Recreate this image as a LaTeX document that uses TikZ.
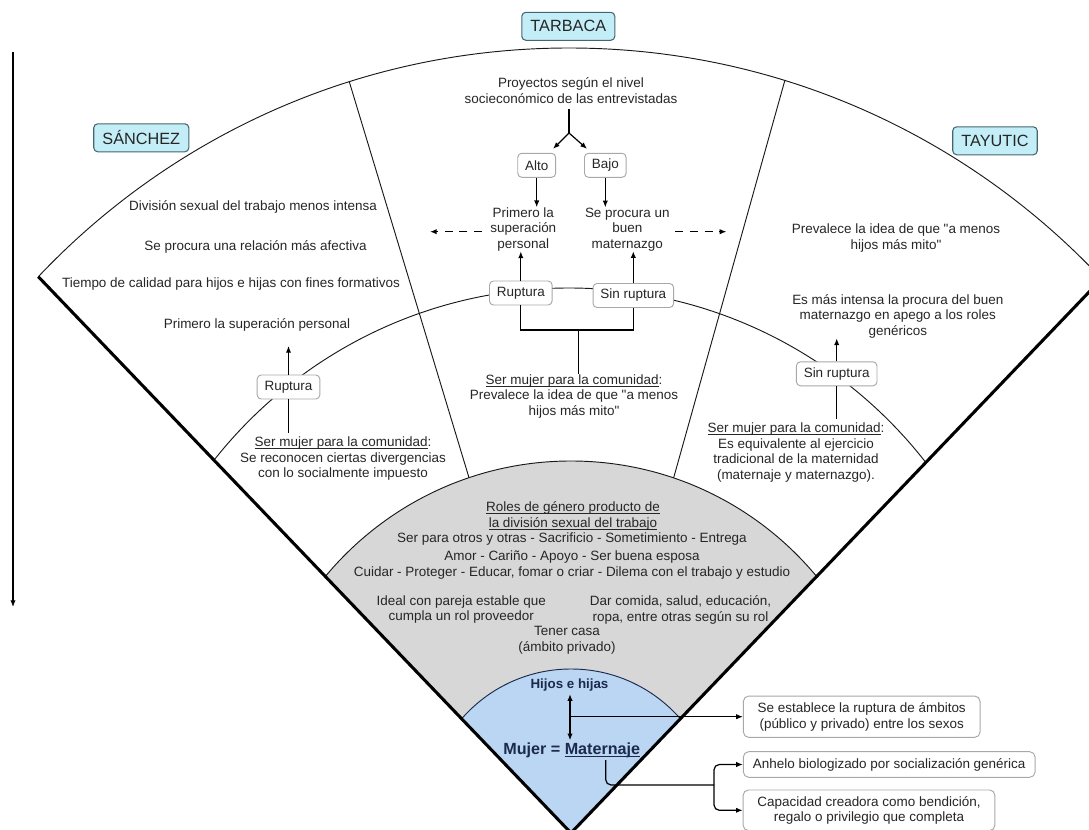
\documentclass[tikz,border=0pt]{standalone}
\usepackage{fontspec}
\setmainfont{Liberation Sans}[Ligatures=TeXOff]
\usetikzlibrary{arrows.meta,calc}
\definecolor{txtc}{HTML}{262626}
\definecolor{lblfill}{HTML}{C4EEF7}
\definecolor{lbldraw}{HTML}{46666E}
\definecolor{grayfill}{HTML}{D7D7D7}
\definecolor{bluefill}{HTML}{BAD6F2}
\definecolor{navy}{HTML}{1B2A4E}
\definecolor{boxdraw}{HTML}{A8A8A8}
\newcommand\fsz{\fontsize{10.1}{11.7}\selectfont}
\newcommand\ulin[2][0.55pt]{\setbox0\hbox{#2}\rlap{\rule[-1.6pt]{\wd0}{#1}}\box0}
\begin{document}
\begin{tikzpicture}[x=0.75pt,y=-0.75pt,
  >={Latex[length=5pt,width=4pt]},
  txt/.style={font=\fsz, text=txtc, align=center, inner sep=0pt},
  lbl/.style={draw=lbldraw, fill=lblfill, rounded corners=3pt, line width=0.8pt,
    font=\fontsize{12.2}{14}\selectfont, text=txtc, inner xsep=6.5pt, minimum height=21pt},
  sbox/.style={draw=boxdraw, fill=white, rounded corners=3pt, line width=0.7pt,
    font=\fsz, text=txtc, inner xsep=5.5pt, minimum height=18pt},
  rbox/.style={draw=boxdraw, fill=white, rounded corners=4pt, line width=0.7pt,
    font=\fsz, text=txtc, align=center},
  conn/.style={line width=0.9pt, draw=black},
  thinline/.style={line width=0.7pt, draw=black!90},
  rim/.style={line width=2.3pt, draw=black},
  dashline/.style={conn, dash pattern=on 6pt off 5pt}]
\useasboundingbox (0,0) rectangle (1089,830);
\clip (0,0) rectangle (1089,830);
% geometry
\coordinate (ap) at (571,833);
\coordinate (lt) at (38.3,276.7);
\coordinate (rt) at (1101.7,278.8);
\begin{scope}
  \clip (ap) -- ($(ap)!3!(lt)$) -- ($(ap)!3!(rt)$) -- cycle;
  \fill[grayfill] (571,780) circle[radius=319];
  \draw[thinline] (571,780) circle[radius=319];
  \fill[bluefill] (571,814) circle[radius=145];
  \draw[thinline,draw=navy] (571,814) circle[radius=145];
  \draw[thinline] (569,778) circle[radius=730];
  \draw[thinline] (569,740) circle[radius=452];
\end{scope}
% dividers
\coordinate (d1a) at (349.3,81.8);
\coordinate (d1b) at (469,477.7);
\coordinate (d2a) at (784.8,80.6);
\coordinate (d2b) at (673.6,478);
\draw[thinline] (d1a) -- (d1b);
\draw[thinline] (d2a) -- (d2b);
% rims
\draw[rim] (lt) -- (ap) -- (rt);
% left margin arrow
\coordinate (va) at (13,52);
\coordinate (vb) at (13,607);
\draw[conn,->] (va) -- (vb);
% labels
\node[lbl] (tarbaca) at (568.3,26.3) {TARBACA};
\node[lbl] (sanchez) at (141.3,137.8) {SÁNCHEZ};
\node[lbl] (tayutic) at (995,140.8) {TAYUTIC};
% middle sector
\node[txt] (proj) at (571,90.5) {Proyectos según el nivel\\socieconómico de las entrevistadas};
\coordinate (fk) at (569,133);
\node[sbox] (alto) at (536.7,165.3) {Alto};
\node[sbox] (bajo) at (605.3,165.3) {Bajo};
\draw[conn,shorten <=4pt] (fk |- proj.south) -- (fk);
\draw[conn,->] (fk) -- ($(alto.north east)+(-3,-4)$);
\draw[conn,->] (fk) -- ($(bajo.north west)+(3,-4)$);
\node[txt] (prim) at (523.3,229.3) {Primero la\\superación\\personal};
\node[txt] (proc) at (627.3,229.3) {Se procura un\\buen\\maternazgo};
\draw[conn,->] (alto.south) -- (alto.south |- prim.north);
\draw[conn,->] (bajo.south) -- (bajo.south |- proc.north);
\coordinate (dl) at (430,231.7);
\coordinate (dr) at (726.4,231.7);
\draw[dashline,->,shorten <=6pt] (prim.west |- dl) -- (dl);
\draw[dashline,->,shorten <=4pt] (proc.east |- dr) -- (dr);
\node[sbox] (rupM) at (520.8,293) {Ruptura};
\node[sbox] (sinM) at (633.3,295.5) {Sin ruptura};
\draw[conn,->] (rupM.north) -- (rupM.north |- prim.south);
\draw[conn,->] (sinM.north) -- (sinM.north |- proc.south);
\coordinate (brk) at (578.3,330);
\draw[conn] (rupM.south) |- (brk) -| (sinM.south);
\node[txt] (serM) at (574,396.5) {\ulin{Ser mujer para la comunidad}:\\Prevalece la idea de que "a menos\\hijos más mito"};
\draw[conn] (brk) -- (brk |- serM.north);
% left sector
\node[txt] (l1) at (253,207.3) {División sexual del trabajo menos intensa};
\node[txt] (l2) at (255.5,246.7) {Se procura una relación más afectiva};
\node[txt] (l3) at (231,284.3) {Tiempo de calidad para hijos e hijas con fines formativos};
\node[txt] (l4) at (257,325) {Primero la superación personal};
\node[sbox] (rupL) at (288.5,387) {Ruptura};
\coordinate (lt4) at (288.5,346);
\draw[conn,->] (rupL.north) -- (lt4);
\node[txt] (serL) at (343,458.7) {\ulin{Ser mujer para la comunidad}:\\Se reconocen ciertas divergencias\\con lo socialmente impuesto};
\draw[conn,shorten >=3pt] (rupL.south) -- (rupL.south |- serL.north);
% right sector
\node[txt] (r1) at (896,238.3) {Prevalece la idea de que "a menos\\hijos más mito"};
\node[txt] (r2) at (897.8,316.2) {Es más intensa la procura del buen\\maternazgo en apego a los roles\\genéricos};
\node[sbox] (sinR) at (836.7,373.8) {Sin ruptura};
\draw[conn,->] (sinR.north) -- (sinR.north |- r2.south);
\node[txt] (serR) at (796,452.7) {\ulin{Ser mujer para la comunidad}:\\Es equivalente al ejercicio\\tradicional de la maternidad\\(maternaje y maternazgo).};
\draw[conn,shorten >=3pt] (sinR.south) -- (sinR.south |- serR.north);
% gray area
\node[txt] (g1) at (573,515.8) {\ulin{Roles de género producto de}\\\ulin{la división sexual del trabajo}};
\node[txt] (g2) at (572,539.3) {Ser para otros y otras - Sacrificio - Sometimiento - Entrega};
\node[txt] (g3) at (572,556.7) {Amor - Cariño - Apoyo - Ser buena esposa};
\node[txt] (g4) at (572,573.3) {Cuidar - Proteger - Educar, fomar o criar - Dilema con el trabajo y estudio};
\node[txt] (g5) at (461.3,609.7) {Ideal con pareja estable que\\cumpla un rol proveedor};
\node[txt] (g6) at (680.5,609.7) {Dar comida, salud, educación,\\ropa, entre otras según su rol};
\node[txt] (g7) at (567,640.5) {Tener casa\\(ámbito privado)};
% blue area
\node[font=\bfseries\fontsize{10}{12}\selectfont, text=navy, inner sep=0pt] (hijos) at (569.5,685) {Hijos e hijas};
\node[font=\bfseries\fontsize{12.1}{14}\selectfont, text=navy, inner sep=0pt] (mujer) at (571.7,750.7) {Mujer = \ulin[0.8pt]{Maternaje}};
\draw[conn,<->,shorten <=2pt,shorten >=2pt] (hijos.south -| 570,0) -- (mujer.north -| 570,0);
% right boxes
\node[rbox, minimum width=177.5pt, minimum height=31pt] (box1) at (861.7,716.7) {Se establece la ruptura de ámbitos\\(público y privado) entre los sexos};
\node[rbox, minimum width=218.8pt, minimum height=19.2pt] (box2) at (889.2,764.5) {Anhelo biologizado por socialización genérica};
\node[rbox, minimum width=188.8pt, minimum height=30.5pt] (box3) at (869,810.3) {Capacidad creadora como bendición,\\regalo o privilegio que completa};
\coordinate (hz) at (570,716.7);
\draw[conn,->] (hz) -- (box1.west);
\coordinate (mt) at (605.7,760);
\coordinate (brj) at (714,785);
\draw[conn,rounded corners=4pt] (mt) |- (brj);
\draw[conn,->,rounded corners=4pt] (brj) |- (box2.west);
\draw[conn,->,rounded corners=4pt] (brj) |- (box3.west);
\end{tikzpicture}
\end{document}
